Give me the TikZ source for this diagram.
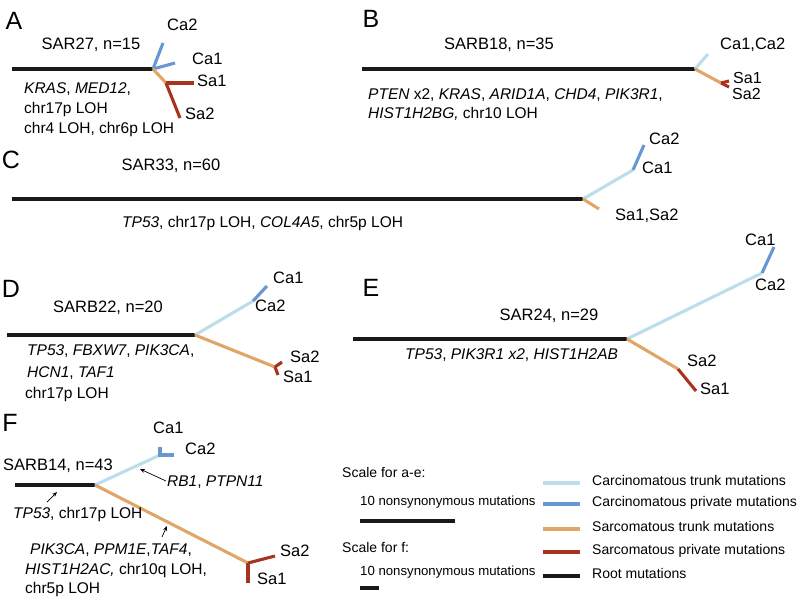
\documentclass[tikz,border=0pt]{standalone}
\usepackage{fontspec}
\setmainfont{Liberation Sans}
\usetikzlibrary{arrows.meta}
\definecolor{ctrunk}{RGB}{188,222,234}
\definecolor{cpriv}{RGB}{104,152,210}
\definecolor{strunk}{RGB}{224,166,104}
\definecolor{spriv}{RGB}{168,52,30}
\definecolor{rootc}{RGB}{25,25,25}
\newcommand{\fsz}[1]{\fontsize{#1}{#1}\selectfont}
\begin{document}
\begin{tikzpicture}[x=1pt,y=-1pt,
 br/.style={line width=3.1pt},
 rootbr/.style={br,draw=rootc},
 ctbr/.style={br,draw=ctrunk},
 cpbr/.style={br,draw=cpriv},
 stbr/.style={br,draw=strunk},
 spbr/.style={br,draw=spriv},
 panel/.style={font=\fsz{25}, inner sep=0},
 title/.style={font=\fsz{16.5}, inner sep=0, text height=0.72em, text depth=0.2em},
 leaf/.style={font=\fsz{16.5}, inner sep=0, anchor=west, text height=0.72em, text depth=0.2em},
 mut/.style={font=\fsz{15.5}, inner sep=0, anchor=west, text height=0.72em, text depth=0.2em},
 leg/.style={font=\fsz{14}, inner sep=0, anchor=west, text height=0.72em, text depth=0.2em},
 scl/.style={font=\fsz{13.2}, inner sep=0, anchor=west, text height=0.72em, text depth=0.2em},
 pointer/.style={-{Stealth[length=5pt,width=4pt]}, line width=0.7pt}
]
\useasboundingbox (0,0) rectangle (800,602);

% ---------- A ----------
\node[panel] (pA) at (14,21) {A};
\node[title] (tA) at (91,47) {SAR27, n=15};
\coordinate (A0) at (12,69); \coordinate (Aj) at (153,69);
\coordinate (Ac2) at (163,43); \coordinate (Ac1) at (175,63);
\coordinate (As) at (166,83); \coordinate (As1) at (194,83); \coordinate (As2) at (180,118);
\draw[rootbr] (A0) -- (Aj);
\draw[cpbr] (Aj) -- (Ac2); \draw[cpbr] (Aj) -- (Ac1);
\draw[stbr] (Aj) -- (As);
\draw[spbr] (As) -- (As1); \draw[spbr] (As) -- (As2);
\node[leaf] (lAc2) at (167,28) {Ca2};
\node[leaf] (lAc1) at (192,62) {Ca1};
\node[leaf] (lAs1) at (197,84) {Sa1};
\node[leaf] (lAs2) at (185,117) {Sa2};
\node[mut] (mA1) at (24,91) {\textit{KRAS}, \textit{MED12},};
\node[mut] (mA2) at (24,111) {chr17p LOH};
\node[mut] (mA3) at (24,131) {chr4 LOH, chr6p LOH};

% ---------- B ----------
\node[panel] (pB) at (371,19) {B};
\node[title] (tB) at (499,47) {SARB18, n=35};
\coordinate (B0) at (362,69); \coordinate (Bj) at (695,69);
\coordinate (Bc) at (708,54); \coordinate (Bs) at (721,83);
\coordinate (Bs1) at (729,81); \coordinate (Bs2) at (729,87);
\draw[rootbr] (B0) -- (Bj);
\draw[ctbr] (Bj) -- (Bc);
\draw[stbr] (Bj) -- (Bs);
\draw[spbr] (Bs) -- (Bs1); \draw[spbr] (Bs) -- (Bs2);
\node[leaf] (lBc) at (720,47) {Ca1,Ca2};
\node[font=\fsz{16}, inner sep=0, anchor=base west] (lBs1) at (733,83) {Sa1};
\node[font=\fsz{16}, inner sep=0, anchor=base west] (lBs2) at (732,99.5) {Sa2};
\node[mut] (mB1) at (368,97) {\textit{PTEN} x2, \textit{KRAS}, \textit{ARID1A}, \textit{CHD4}, \textit{PIK3R1},};
\node[mut] (mB2) at (368,116) {\textit{HIST1H2BG,} chr10 LOH};

% ---------- C ----------
\node[panel] (pC) at (11,160) {C};
\node[title] (tC) at (171,168) {SAR33, n=60};
\coordinate (C0) at (12,199); \coordinate (Cj) at (583,199);
\coordinate (Cc) at (633,170); \coordinate (Cc2) at (644,145);
\coordinate (Cs) at (599,209);
\draw[rootbr] (C0) -- (Cj);
\draw[ctbr] (Cj) -- (Cc);
\draw[cpbr] (Cc) -- (Cc2);
\draw[stbr] (Cj) -- (Cs);
\node[leaf] (lCc2) at (649,142) {Ca2};
\node[leaf] (lCc1) at (642,171) {Ca1};
\node[leaf] (lCs) at (615,218) {Sa1,Sa2};
\node[mut] (mC1) at (122,225) {\textit{TP53}, chr17p LOH, \textit{COL4A5}, chr5p LOH};

% ---------- D ----------
\node[panel] (pD) at (11,289) {D};
\node[title] (tD) at (108,310) {SARB22, n=20};
\coordinate (D0) at (7,335); \coordinate (Dj) at (195,335);
\coordinate (Dc) at (253,301); \coordinate (Dc1) at (267,286);
\coordinate (Ds) at (275,367); \coordinate (Ds2) at (282,362); \coordinate (Ds1) at (278,375);
\draw[rootbr] (D0) -- (Dj);
\draw[ctbr] (Dj) -- (Dc);
\draw[cpbr] (Dc) -- (Dc1);
\draw[stbr] (Dj) -- (Ds);
\draw[spbr] (Ds) -- (Ds2); \draw[spbr] (Ds) -- (Ds1);
\node[leaf] (lDc1) at (273,281) {Ca1};
\node[leaf] (lDc2) at (255,309) {Ca2};
\node[leaf] (lDs2) at (290,360) {Sa2};
\node[leaf] (lDs1) at (283,380) {Sa1};
\node[mut] (mD1) at (27,353) {\textit{TP53}, \textit{FBXW7}, \textit{PIK3CA},};
\node[mut] (mD2) at (27,375) {\textit{HCN1}, \textit{TAF1}};
\node[mut] (mD3) at (25,396) {chr17p LOH};

% ---------- E ----------
\node[panel] (pE) at (371,288) {E};
\node[title] (tE) at (549,318) {SAR24, n=29};
\coordinate (E0) at (353,339); \coordinate (Ej) at (627,339);
\coordinate (Ec) at (762,273); \coordinate (Ec1) at (774,247);
\coordinate (Es) at (678,369); \coordinate (Es1) at (696,391);
\draw[rootbr] (E0) -- (Ej);
\draw[ctbr] (Ej) -- (Ec);
\draw[cpbr] (Ec) -- (Ec1);
\draw[stbr] (Ej) -- (Es);
\draw[spbr] (Es) -- (Es1);
\node[leaf] (lEc1) at (745,243) {Ca1};
\node[leaf] (lEc2) at (755,288) {Ca2};
\node[leaf] (lEs2) at (687,364) {Sa2};
\node[leaf] (lEs1) at (700,392) {Sa1};
\node[mut] (mE1) at (405,357) {\textit{TP53}, \textit{PIK3R1 x2}, \textit{HIST1H2AB}};

% ---------- F ----------
\node[panel] (pF) at (10,423) {F};
\node[title] (tF) at (58,468) {SARB14, n=43};
\coordinate (F0) at (15,485); \coordinate (Fj) at (95,485);
\coordinate (Fc) at (160,455); \coordinate (Fc1) at (160,447); \coordinate (Fc2) at (174,455);
\coordinate (Fs) at (248,563); \coordinate (Fs2) at (275,556); \coordinate (Fs1) at (248,583);
\draw[rootbr] (F0) -- (Fj);
\draw[ctbr] (Fj) -- (Fc);
\draw[cpbr] (Fc1) -- (Fc) -- (Fc2);
\draw[stbr] (Fj) -- (Fs);
\draw[spbr] (Fs) -- (Fs2); \draw[spbr] (Fs) -- (Fs1);
\node[leaf] (lFc1) at (153,431) {Ca1};
\node[leaf] (lFc2) at (185,452) {Ca2};
\node[leaf] (lFs2) at (280,554) {Sa2};
\node[leaf] (lFs1) at (257,582) {Sa1};
\node[mut] (mF1) at (167,484) {\textit{RB1}, \textit{PTPN11}};
\node[mut] (mF2) at (13,516) {\textit{TP53}, chr17p LOH};
\node[mut] (mF3) at (30,552) {\textit{PIK3CA}, \textit{PPM1E},\textit{TAF4},};
\node[mut] (mF4) at (25,572) {\textit{HIST1H2AC,} chr10q LOH,};
\node[mut] (mF5) at (25,591) {chr5p LOH};
\coordinate (aR1s) at (166,481); \coordinate (aR1e) at (140,469);
\coordinate (aTPs) at (47,502); \coordinate (aTPe) at (57,492);
\coordinate (aPKs) at (162,537); \coordinate (aPKe) at (167,526);
\draw[pointer] (aR1s) -- (aR1e);
\draw[pointer] (aTPs) -- (aTPe);
\draw[pointer] (aPKs) -- (aPKe);

% ---------- legend ----------
\node[leg] (sc1) at (342,475) {Scale for a-e:};
\node[scl] (sc1t) at (360,503) {10 nonsynonymous mutations};
\coordinate (sb1a) at (360,521); \coordinate (sb1b) at (455,521);
\draw[rootbr] (sb1a) -- (sb1b);
\node[leg] (sc2) at (342,550) {Scale for f:};
\node[scl] (sc2t) at (360,573) {10 nonsynonymous mutations};
\coordinate (sb2a) at (360,588); \coordinate (sb2b) at (379,588);
\draw[rootbr] (sb2a) -- (sb2b);

\coordinate (L1a) at (543,483); \coordinate (L1b) at (580,483);
\coordinate (L2a) at (543,504); \coordinate (L2b) at (580,504);
\coordinate (L3a) at (543,529); \coordinate (L3b) at (580,529);
\coordinate (L4a) at (543,552); \coordinate (L4b) at (580,552);
\coordinate (L5a) at (543,576); \coordinate (L5b) at (580,576);
\draw[ctbr] (L1a) -- (L1b);
\draw[cpbr] (L2a) -- (L2b);
\draw[stbr] (L3a) -- (L3b);
\draw[spbr] (L4a) -- (L4b);
\draw[rootbr] (L5a) -- (L5b);
\node[leg] (lg1) at (592,483) {Carcinomatous trunk mutations};
\node[leg] (lg2) at (592,504) {Carcinomatous private mutations};
\node[leg] (lg3) at (592,529) {Sarcomatous trunk mutations};
\node[leg] (lg4) at (592,552) {Sarcomatous private mutations};
\node[leg] (lg5) at (592,576) {Root mutations};
\end{tikzpicture}
\end{document}
